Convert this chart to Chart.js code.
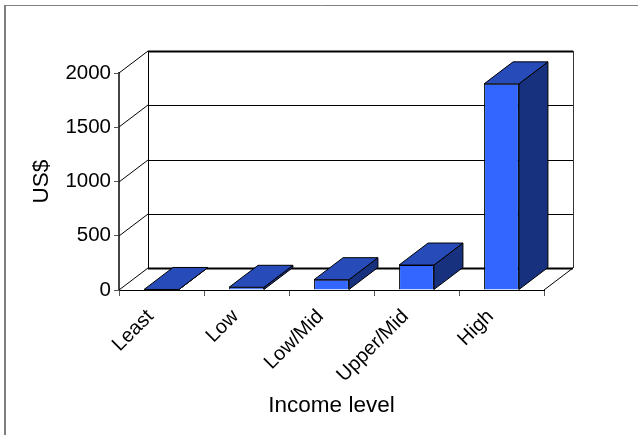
<!DOCTYPE html>
<html>
<head>
<meta charset="utf-8">
<title>Income level</title>
<script src="https://cdn.jsdelivr.net/npm/chart.js@4/dist/chart.umd.min.js"></script>
<style>
    html, body { margin: 0; padding: 0; background: #fff; }
    canvas { display: block; }
</style>
</head>
<body>
<canvas id="chart" width="638" height="435"></canvas>
<script>
const categories = ['Least', 'Low', 'Low/Mid', 'Upper/Mid', 'High'];
const values = [5, 25, 95, 230, 1900];
const yTicks = [0, 500, 1000, 1500, 2000];

// Sloped depth of the fake 3D box
const depthX = 29;
const depthY = 22;

function line(ctx, x1, y1, x2, y2, color, width) {
    ctx.strokeStyle = color;
    ctx.lineWidth = width;
    ctx.beginPath();
    ctx.moveTo(x1, y1);
    ctx.lineTo(x2, y2);
    ctx.stroke();
}

function poly(ctx, points, fill) {
    ctx.fillStyle = fill;
    ctx.strokeStyle = '#000';
    ctx.lineWidth = 1;
    ctx.beginPath();
    points.forEach(function(p, i) {
        if (i === 0) ctx.moveTo(p[0], p[1]);
        else ctx.lineTo(p[0], p[1]);
    });
    ctx.closePath();
    ctx.fill();
    ctx.stroke();
}

// Outer frame, back walls and floor, drawn behind the bars
const box3d = {
    id: 'box3d',
    beforeDatasetsDraw(chart) {
        const ctx = chart.ctx;
        const y = chart.scales.y;
        const left = chart.chartArea.left;
        const right = chart.chartArea.right;
        const bottom = chart.chartArea.bottom;

        ctx.save();
        line(ctx, 5, 5.5, 638, 5.5, '#808080', 1);
        line(ctx, 5, 5, 5, 435, '#808080', 2);

        yTicks.forEach(function(t) {
            const py = Math.round(y.getPixelForValue(t));
            const isEdge = t === 0 || t === 2000;
            line(ctx, left, py, left + depthX, py - depthY, '#000', 1);
            line(ctx, left + depthX, py - depthY + 0.5, right + depthX, py - depthY + 0.5, '#000', isEdge ? 2 : 1);
        });

        const topBack = Math.round(y.getPixelForValue(2000)) - depthY;
        line(ctx, left + depthX + 0.5, topBack, left + depthX + 0.5, bottom - depthY, '#000', 1);
        line(ctx, right + depthX + 0.5, topBack, right + depthX + 0.5, bottom - depthY, '#333', 1);
        line(ctx, right, bottom, right + depthX, bottom - depthY, '#000', 1);
        ctx.restore();
    },
    afterDatasetsDraw(chart) {
        const ctx = chart.ctx;
        ctx.save();
        chart.getDatasetMeta(0).data.forEach(function(bar) {
            const l = bar.x - bar.width / 2;
            const r = bar.x + bar.width / 2;
            poly(ctx, [[r, bar.y], [r + depthX, bar.y - depthY], [r + depthX, bar.base - depthY], [r, bar.base]], '#17317F');
            poly(ctx, [[l, bar.y], [l + depthX, bar.y - depthY], [r + depthX, bar.y - depthY], [r, bar.y]], '#274CBA');
        });
        ctx.restore();
    }
};

new Chart(document.getElementById('chart'), {
    type: 'bar',
    data: {
        labels: categories,
        datasets: [{
            data: values,
            backgroundColor: '#3366FF',
            borderColor: '#000',
            borderWidth: 1,
            barPercentage: 0.41,
            categoryPercentage: 1
        }]
    },
    plugins: [box3d],
    options: {
        responsive: false,
        animation: false,
        layout: { padding: { top: 73, right: 94, bottom: 0, left: 0 } },
        plugins: {
            legend: { display: false },
            tooltip: { enabled: false }
        },
        scales: {
            x: {
                afterFit(scale) { scale.height = 145; },
                grid: { drawOnChartArea: false, tickLength: 6, tickColor: '#555', offset: true },
                border: { color: '#000', width: 1 },
                ticks: {
                    color: '#000',
                    minRotation: 45,
                    maxRotation: 45,
                    padding: 9,
                    labelOffset: -11,
                    font: { family: '"Liberation Sans"', size: 20 }
                },
                title: {
                    display: true,
                    text: 'Income level',
                    color: '#000',
                    font: { family: '"Liberation Sans"', size: 22.5 },
                    padding: { top: 0, bottom: 16 }
                }
            },
            y: {
                afterFit(scale) { scale.width = 119; },
                min: 0,
                max: 2000,
                grid: { drawOnChartArea: false, tickLength: 5, tickColor: '#555' },
                border: { color: '#444', width: 2 },
                ticks: {
                    color: '#000',
                    stepSize: 500,
                    padding: 3,
                    callback: function(v) { return String(v); },
                    font: { family: '"Liberation Sans"', size: 20.5 }
                },
                title: {
                    display: true,
                    text: 'US$',
                    color: '#000',
                    font: { family: '"Liberation Sans"', size: 22.5 },
                    padding: { top: 28, bottom: 0 }
                }
            }
        }
    }
});
</script>
</body>
</html>
